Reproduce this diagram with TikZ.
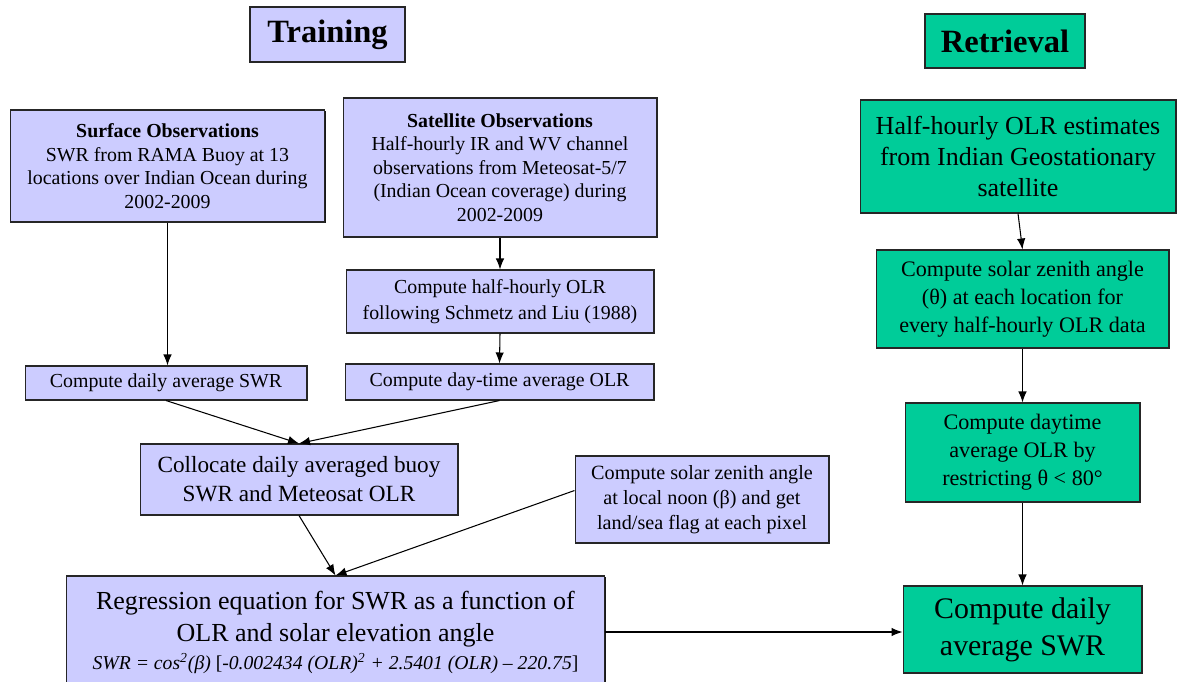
\documentclass[tikz,border=0pt]{standalone}
\usepackage{fontspec}
\setmainfont{Liberation Serif}
\usetikzlibrary{arrows.meta,calc,shadows}
\definecolor{lav}{HTML}{CCCCFF}
\definecolor{teal}{HTML}{00CC99}
\newcommand{\fs}[2]{\fontsize{#1}{#2}\selectfont}
\tikzset{
  box/.style={draw=black!85, line width=0.6pt, inner sep=0pt, align=center,
    drop shadow={shadow xshift=0.7pt, shadow yshift=-0.7pt, fill=black, opacity=0.9}},
  trainbox/.style={box, fill=lav},
  retrbox/.style={box, fill=teal},
  link/.style={draw=black, line width=0.6pt, -{Latex[length=0.22cm,width=0.17cm]}}
}
\begin{document}
\begin{tikzpicture}[x=0.02cm, y=-0.02cm]
\clip (0,0) rectangle (1177,681);
\useasboundingbox (0,0) rectangle (1177,681);

% section titles
\node[trainbox, minimum width=3.1cm, minimum height=1.1cm, font=\fs{18.5}{20}\bfseries] (train) at (327.5,34.5)
  {Training};
\node[retrbox, minimum width=3.2cm, minimum height=1.08cm, font=\fs{18.5}{20}\bfseries] (retr) at (1005,41)
  {Retrieval};

% training branch
\node[trainbox, minimum width=6.3cm, minimum height=2.24cm, font=\fs{11.3}{13.4}] (surf) at (167.5,166)
  {\textbf{Surface Observations}\\SWR from RAMA Buoy at 13\\locations over Indian Ocean during\\2002-2009};
\node[trainbox, minimum width=6.28cm, minimum height=2.78cm, font=\fs{11.3}{13.4}] (sat) at (500,167.5)
  {\textbf{Satellite Observations}\\Half-hourly IR and WV channel\\observations from Meteosat-5/7\\(Indian Ocean coverage) during\\2002-2009};
\node[trainbox, minimum width=6.16cm, minimum height=1.26cm, font=\fs{11.3}{14.5}] (olr) at (500,301.5)
  {Compute half-hourly OLR\\following Schmetz and Liu (1988)};
\node[trainbox, minimum width=5.64cm, minimum height=0.68cm, font=\fs{11.3}{13.4}] (dsw) at (166,383)
  {Compute daily average SWR};
\node[trainbox, minimum width=6.18cm, minimum height=0.72cm, font=\fs{11.3}{13.4}] (dolr) at (499.5,382)
  {Compute day-time average OLR};
\node[trainbox, minimum width=6.36cm, minimum height=1.42cm, font=\fs{13.2}{16.4}] (coll) at (299,479.5)
  {Collocate daily averaged buoy\\SWR and Meteosat OLR};
\node[trainbox, minimum width=5.08cm, minimum height=1.74cm, font=\fs{11.5}{14.2}] (noon) at (702,499.5)
  {Compute solar zenith angle\\at local noon (β) and get\\land/sea flag at each pixel};
\node[trainbox, minimum width=10.78cm, minimum height=2.24cm, font=\fs{14.8}{18.6}] (reg) at (335.5,632)
  {Regression equation for SWR as a function of\\OLR and solar elevation angle\\[-3pt]
   {\fs{11.2}{14}\textit{SWR = cos\textsuperscript{2}(β)} [\textit{-0.002434 (OLR)\textsuperscript{2} + 2.5401 (OLR) – 220.75}]}};

% retrieval branch
\node[retrbox, minimum width=6.32cm, minimum height=2.26cm, font=\fs{14.8}{17.6}] (hh) at (1018,156.5)
  {Half-hourly OLR estimates\\from Indian Geostationary\\satellite};
\node[retrbox, minimum width=5.86cm, minimum height=1.96cm, font=\fs{12.6}{15.9}] (sza) at (1022.5,299)
  {Compute solar zenith angle\\(θ) at each location for\\every half-hourly OLR data};
\node[retrbox, minimum width=4.7cm, minimum height=1.98cm, font=\fs{12.6}{15.9}] (dt) at (1022.5,452.5)
  {Compute daytime\\average OLR by\\restricting θ < 80°};
\node[retrbox, minimum width=4.78cm, minimum height=1.74cm, font=\fs{17}{21}] (fin) at (1022.5,629.5)
  {Compute daily\\average SWR};

% connectors
\draw[link] (surf.south) -- (surf.south |- dsw.north);
\draw[link] (sat.south) -- (olr.north);
\draw[link] (olr.south) -- (dolr.north);
\draw[link] (dsw.south) -- (coll.north);
\draw[link] (dolr.south) -- (coll.north);
\draw[link] (coll.south) -- (reg.north);
\draw[link] ($(noon.west)+(0,-9)$) -- (reg.north);
\draw[link] (reg.east) -- (reg.east -| fin.west);
\draw[link] (hh.south) -- (sza.north);
\draw[link] (sza.south) -- (dt.north);
\draw[link] (dt.south) -- (fin.north);
\end{tikzpicture}
\end{document}
